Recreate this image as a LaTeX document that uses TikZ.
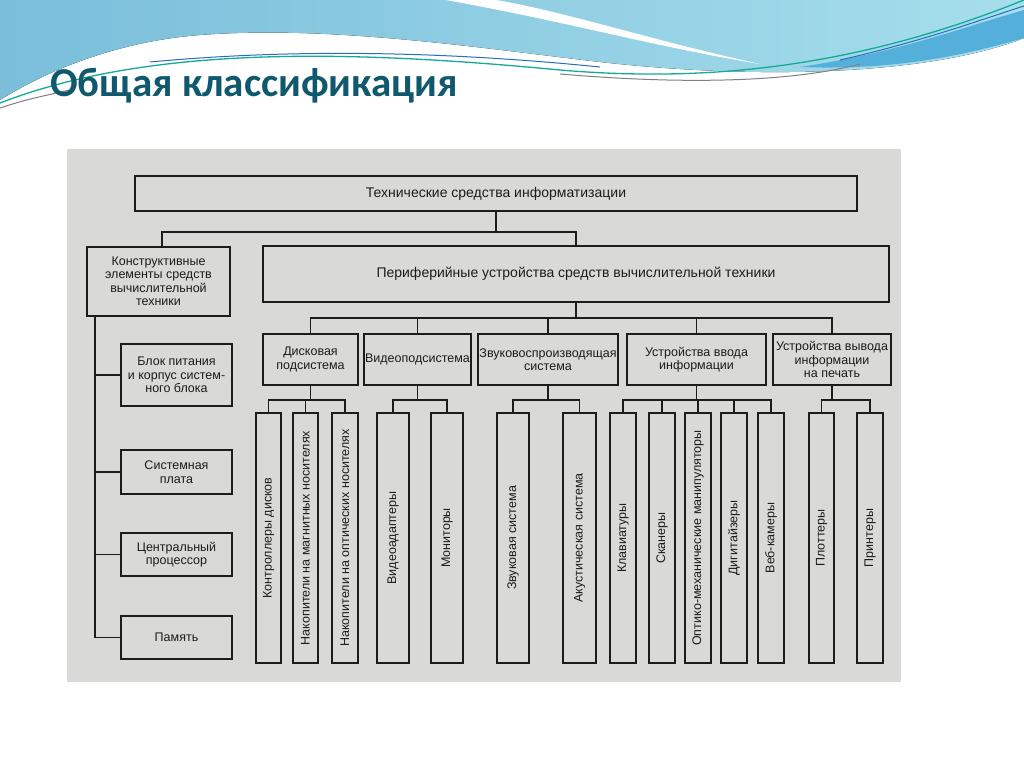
\documentclass[tikz,border=0pt]{standalone}
\usepackage{fontspec}
\setmainfont{Liberation Sans}
\newfontfamily\titlefont{Carlito}
\definecolor{scan}{RGB}{217,217,215}
\definecolor{ink}{RGB}{28,28,28}
\definecolor{headteal}{RGB}{16,88,110}
\definecolor{waveL}{RGB}{122,190,218}
\definecolor{waveR}{RGB}{166,222,236}
\definecolor{waveD}{RGB}{84,176,218}
\definecolor{waveTeal}{RGB}{20,170,150}
\definecolor{waveBlue}{RGB}{40,110,190}

\tikzset{
  box/.style={draw=ink, line width=1.7pt, fill=scan, text=ink, inner sep=0pt,
    align=center, font=\fontsize{12.5}{13.5}\selectfont},
  bigbox/.style={box, font=\fontsize{14}{16}\selectfont},
  leaf/.style={box, rotate=90, minimum width=250pt, minimum height=26pt},
  wire/.style={draw=ink, line width=1.7pt},
}

\begin{document}
\begin{tikzpicture}[x=1pt, y=-1pt]
    \useasboundingbox (0,0) rectangle (1024,767);
    \fill[white] (0,0) rectangle (1024,767);

    % wave at the top
    \fill[left color=waveL, right color=waveR] (0,0) -- (1024,0) -- (1024,38)
      .. controls (930,75) and (760,80) .. (600,62)
      .. controls (480,48) and (330,25) .. (200,35)
      .. controls (110,42) and (40,75) .. (0,100) -- cycle;
    \fill[white] (440,-1) .. controls (560,20) and (660,48) .. (760,64)
      .. controls (650,40) and (560,10) .. (490,-1) -- cycle;
    \fill[waveD] (800,67) .. controls (900,52) and (960,28) .. (1024,10) -- (1024,38)
      .. controls (950,60) and (880,70) .. (800,67) -- cycle;
    \draw[waveTeal, line width=1.3pt] (0,103) .. controls (150,45) and (350,50) .. (560,70)
      .. controls (700,82) and (850,70) .. (1024,0);
    \draw[waveBlue, line width=1pt] (150,62) .. controls (300,48) and (450,52) .. (600,67);
    \draw[waveBlue, line width=1pt] (840,60) .. controls (920,42) and (980,20) .. (1024,6);
    \draw[gray, line width=1pt] (0,108) .. controls (25,100) .. (70,90);
    \draw[gray, line width=1pt] (560,74) .. controls (700,86) and (800,80) .. (860,64);

    \node[anchor=base west, inner sep=0pt, text=headteal,
      font=\titlefont\bfseries\fontsize{41}{45}\selectfont] (title) at (50,97) {Общая классификация};

    % scanned scheme
    \fill[scan] (67,149) rectangle (901,682);

    \node[bigbox, minimum width=722pt, minimum height=35pt] (tech) at (496,193.5) {Технические средства информатизации};
    \node[box, minimum width=143pt, minimum height=69pt] (konstr) at (158.5,281.5)
      {Конструктивные\\элементы средств\\вычислительной\\техники};
    \node[bigbox, minimum width=626pt, minimum height=56pt] (periph) at (576,274)
      {Периферийные устройства средств вычислительной техники};

    \draw[wire] (tech.south) -- ++(0,20) -| ([xshift=3.5pt]konstr.north);
    \draw[wire] (tech.south) -- ++(0,20) -| (periph.north);

    % constructive elements
    \node[box, minimum width=111pt, minimum height=62pt] (pit) at (176.5,375) {Блок питания\\и корпус систем-\\ного блока};
    \node[box, minimum width=111pt, minimum height=44pt] (plata) at (176.5,472) {Системная\\плата};
    \node[box, minimum width=111pt, minimum height=43pt] (cpu) at (176.5,554.5) {Центральный\\процессор};
    \node[box, minimum width=111pt, minimum height=43pt] (mem) at (176.5,637.5) {Память};

    \draw[wire] ([xshift=9pt]konstr.south west) |- (pit.west);
    \draw[wire] ([xshift=9pt]konstr.south west) |- (plata.west);
    \draw[wire] ([xshift=9pt]konstr.south west) |- (cpu.west);
    \draw[wire] ([xshift=9pt]konstr.south west) |- (mem.west);

    % peripheral subsystems
    \node[box, minimum width=95pt, minimum height=51pt] (disk) at (310.5,359.5) {Дисковая\\подсистема};
    \node[box, minimum width=107pt, minimum height=51pt] (video) at (417.5,359.5) {Видеоподсистема};
    \node[box, minimum width=140pt, minimum height=51pt] (sound) at (548,359.5) {Звуковоспроизводящая\\система};
    \node[box, minimum width=139pt, minimum height=51pt] (input) at (696.5,359.5) {Устройства ввода\\информации};
    \node[box, minimum width=118pt, minimum height=51pt] (output) at (832,359.5) {Устройства вывода\\информации\\на печать};

    \draw[wire] (periph.south) -- ++(0,15) -| (disk.north);
    \draw[wire] (periph.south) -- ++(0,15) -| (video.north);
    \draw[wire] (periph.south) -- ++(0,15) -| (sound.north);
    \draw[wire] (periph.south) -- ++(0,15) -| (input.north);
    \draw[wire] (periph.south) -- ++(0,15) -| (output.north);

    % devices
    \node[leaf, minimum height=25pt] (ctrl) at (268.5,538) {Контроллеры дисков};
    \node[leaf, minimum height=25pt] (magn) at (305.5,538) {Накопители на магнитных носителях};
    \node[leaf] (opt) at (345,538) {Накопители на оптических носителях};
    \node[leaf, minimum height=32pt] (vadapt) at (393,538) {Видеоадаптеры};
    \node[leaf, minimum height=32pt] (monit) at (447,538) {Мониторы};
    \node[leaf, minimum height=32pt] (zvuk) at (513,538) {Звуковая система};
    \node[leaf, minimum height=33pt] (akust) at (579.5,538) {Акустическая система};
    \node[leaf] (klav) at (623,538) {Клавиатуры};
    \node[leaf] (scan) at (662,538) {Сканеры};
    \node[leaf] (manip) at (698,538) {Оптико-механические манипуляторы};
    \node[leaf] (digit) at (734,538) {Дигитайзеры};
    \node[leaf] (webcam) at (771,538) {Веб-камеры};
    \node[leaf, minimum height=25pt] (plot) at (821.5,538) {Плоттеры};
    \node[leaf] (print) at (870,538) {Принтеры};

    \draw[wire] (disk.south) -- ++(0,14) -| (ctrl.east);
    \draw[wire] (disk.south) -- ++(0,14) -| (magn.east);
    \draw[wire] (disk.south) -- ++(0,14) -| (opt.east);
    \draw[wire] (video.south) -- ++(0,14) -| (vadapt.east);
    \draw[wire] (video.south) -- ++(0,14) -| (monit.east);
    \draw[wire] (sound.south) -- ++(0,14) -| (zvuk.east);
    \draw[wire] (sound.south) -- ++(0,14) -| (akust.east);
    \draw[wire] (input.south) -- ++(0,14) -| (klav.east);
    \draw[wire] (input.south) -- ++(0,14) -| (scan.east);
    \draw[wire] (input.south) -- ++(0,14) -| (manip.east);
    \draw[wire] (input.south) -- ++(0,14) -| (digit.east);
    \draw[wire] (input.south) -- ++(0,14) -| (webcam.east);
    \draw[wire] (output.south) -- ++(0,14) -| (plot.east);
    \draw[wire] (output.south) -- ++(0,14) -| (print.east);
\end{tikzpicture}
\end{document}
